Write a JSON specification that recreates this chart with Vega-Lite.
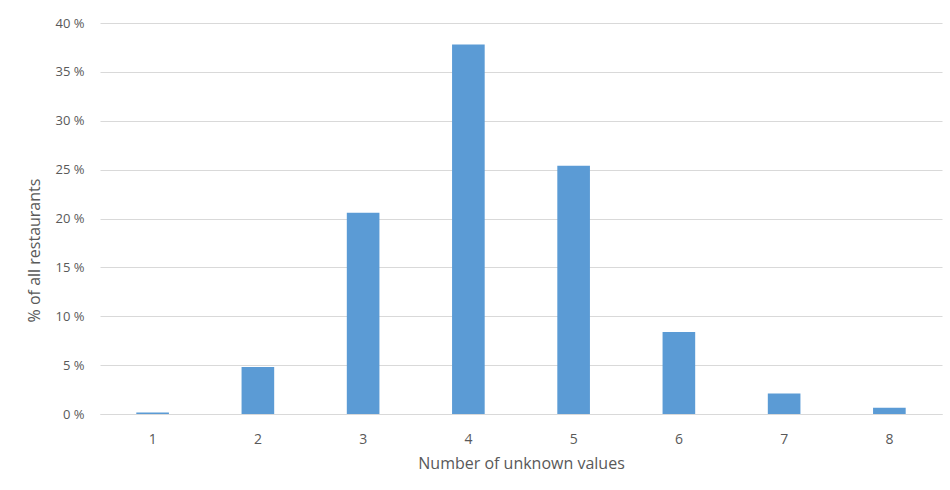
{
  "$schema": "https://vega.github.io/schema/vega-lite/v6.json",
  "autosize": "none",
  "width": 842,
  "height": 391,
  "padding": {"left": 100, "top": 23, "right": 8, "bottom": 76},
  "background": "white",
  "data": {
    "values": [
      {"unknown": "1", "pct": 0.15},
      {"unknown": "2", "pct": 4.8},
      {"unknown": "3", "pct": 20.6},
      {"unknown": "4", "pct": 37.8},
      {"unknown": "5", "pct": 25.4},
      {"unknown": "6", "pct": 8.4},
      {"unknown": "7", "pct": 2.1},
      {"unknown": "8", "pct": 0.65}
    ]
  },
  "mark": {"type": "bar", "color": "#5b9bd5"},
  "encoding": {
    "x": {
      "field": "unknown",
      "type": "ordinal",
      "sort": null,
      "scale": {"paddingInner": 0.69, "paddingOuter": 0.345},
      "axis": {
        "title": "Number of unknown values",
        "titleFont": "Open Sans",
        "titleFontSize": 16,
        "titleFontWeight": "normal",
        "titleColor": "#595959",
        "titlePadding": 9,
        "labelAngle": 0,
        "labelFont": "Open Sans",
        "labelFontSize": 14,
        "labelColor": "#595959",
        "labelPadding": 18,
        "ticks": false,
        "domainColor": "#d9d9d9",
        "domainWidth": 1,
        "grid": false
      }
    },
    "y": {
      "field": "pct",
      "type": "quantitative",
      "scale": {"domain": [0, 40], "nice": false},
      "axis": {
        "title": "% of all restaurants",
        "titleFont": "Open Sans",
        "titleFontSize": 16,
        "titleFontWeight": "normal",
        "titleColor": "#595959",
        "titleX": -58,
        "titleY": 227,
        "values": [0, 5, 10, 15, 20, 25, 30, 35, 40],
        "labelExpr": "datum.value + ' %'",
        "labelFont": "Open Sans",
        "labelFontSize": 13,
        "labelColor": "#595959",
        "labelPadding": 16,
        "ticks": false,
        "domain": false,
        "grid": true,
        "gridColor": "#d9d9d9",
        "gridWidth": 1
      }
    }
  },
  "config": {
    "view": {"stroke": null}
  }
}
